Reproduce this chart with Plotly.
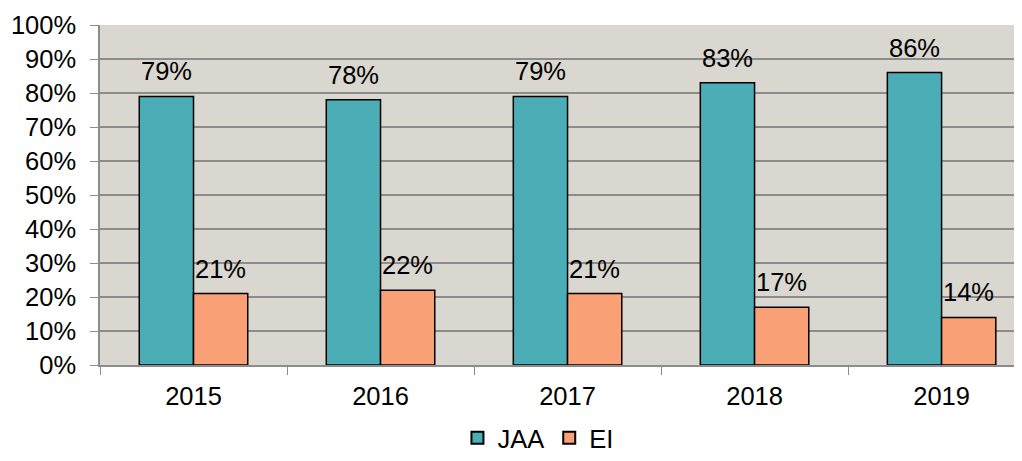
import plotly.graph_objects as go

years = ["2015", "2016", "2017", "2018", "2019"]
jaa = [79, 78, 79, 83, 86]
ei = [21, 22, 21, 17, 14]

teal = "#4badb6"
salmon = "#f9a077"
font = "Liberation Sans, Arial, sans-serif"
fs = 25.5

fig = go.Figure()
fig.add_trace(go.Bar(name="JAA", x=years, y=jaa, marker=dict(color=teal, line=dict(color="#000", width=1.5))))
fig.add_trace(go.Bar(name="EI", x=years, y=ei, marker=dict(color=salmon, line=dict(color="#000", width=1.5))))

anns = []
for i, (a, b) in enumerate(zip(jaa, ei)):
    anns.append(dict(x=i, y=a, xref="x", yref="y", text=f"{a}%", showarrow=False,
                     xshift=-27, yshift=25, font=dict(size=fs, color="#000", family=font)))
    anns.append(dict(x=i, y=b, xref="x", yref="y", text=f"{b}%", showarrow=False,
                     xshift=27, yshift=25, font=dict(size=fs, color="#000", family=font)))

# page body has an 8px margin, so the figure is sized to fit the 1022x461 window
fig.update_layout(
    width=1014, height=453,
    margin=dict(l=92, r=0, t=17, b=96, autoexpand=False),
    barmode="group", bargap=0.42, bargroupgap=0,
    plot_bgcolor="#d9d7cf", paper_bgcolor="#ffffff",
    font=dict(family=font, size=fs, color="#000"),
    annotations=anns,
    legend=dict(orientation="h", x=0.475, xanchor="center", y=-0.215, yanchor="middle",
                font=dict(size=fs, family=font), itemsizing="constant", itemwidth=30,
                tracegroupgap=0),
    showlegend=True,
)
fig.update_yaxes(range=[0, 100], dtick=10, ticksuffix="%", showgrid=True, gridcolor="#8c8c8c", gridwidth=1.5,
                 ticks="outside", ticklen=8, tickcolor="#8c8c8c", showline=True, linecolor="#8c8c8c",
                 linewidth=1.5, zeroline=False, tickfont=dict(size=fs), ticklabelstandoff=9, automargin=False)
fig.update_xaxes(type="category", range=[-0.5, 4.43], ticks="outside", tickson="boundaries", ticklen=8,
                 tickcolor="#8c8c8c", showline=True, linecolor="#8c8c8c", linewidth=1.5,
                 tickfont=dict(size=fs), ticklabelstandoff=8, automargin=False)

fig.write_html("out.html")
